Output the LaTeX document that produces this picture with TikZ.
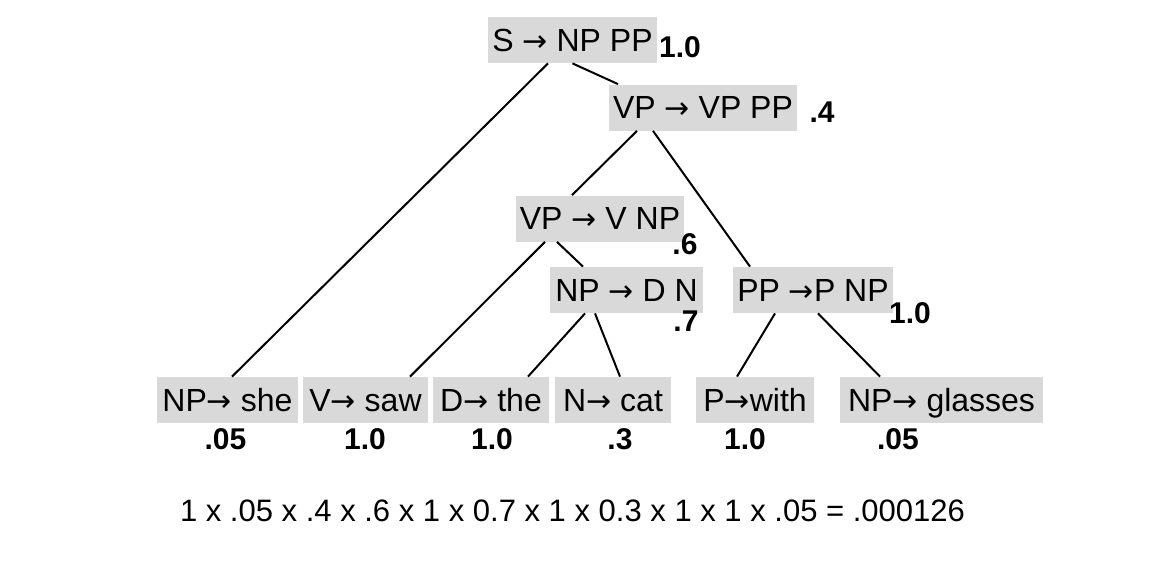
\documentclass[tikz,border=0pt]{standalone}
\usepackage{fontspec}
\setmainfont{Liberation Sans}
\newfontfamily\arrowfont{DejaVu Sans}
\usepackage{tikz}
\usetikzlibrary{positioning,calc}

\newcommand{\ra}{{\arrowfont\fontsize{15}{16}\selectfont →}}

\tikzset{
    rulebox/.style={fill=gray!30, font=\fontsize{16}{18}\selectfont, minimum height=23pt, text height=11.45pt, text depth=0pt, inner xsep=2pt, inner ysep=0pt},
    prob/.style={font=\fontsize{15}{18}\selectfont\bfseries, inner sep=0pt},
    branch/.style={line width=1pt}
}

\begin{document}
\begin{tikzpicture}[x=0.5pt, y=-0.5pt]
    \useasboundingbox (0,0) rectangle (1156,562);

    % Rules
    \node[rulebox, minimum width=84.5pt] (S) at (572.5,40) {S \ra{} NP PP};
    \node[rulebox, minimum width=92pt] (VPa) at (703,107.5) {VP \ra{} VP PP};
    \node[rulebox, minimum width=83pt] (VPb) at (600,218.5) {VP \ra{} V NP};
    \node[rulebox, minimum width=76.5pt] (NPdn) at (626.5,290) {NP \ra{} D N};
    \node[rulebox, minimum width=80pt] (PPpnp) at (813,290) {PP \ra P NP};

    % Leaves
    \node[rulebox, minimum width=70.5pt] (she) at (227.5,400) {NP\ra{} she};
    \node[rulebox, minimum width=62.5pt] (saw) at (365.5,400) {V\ra{} saw};
    \node[rulebox, minimum width=58pt] (the) at (491,400) {D\ra{} the};
    \node[rulebox, minimum width=58pt] (cat) at (613,400) {N\ra{} cat};
    \node[rulebox, minimum width=59pt] (with) at (755,400) {P\ra with};
    \node[rulebox, minimum width=101.5pt] (glasses) at (941.5,400) {NP\ra{} glasses};

    % Probabilities
    \node[prob] (pS) at (680,47) {1.0};
    \node[prob] (pVPa) at (822,112) {.4};
    \node[prob] (pVPb) at (685,244) {.6};
    \node[prob] (pNPdn) at (686,321) {.7};
    \node[prob] (pPPpnp) at (910,313) {1.0};
    \node[prob] (pshe) at (225.5,439.5) {.05};
    \node[prob] (psaw) at (365,439.5) {1.0};
    \node[prob] (pthe) at (492,439.5) {1.0};
    \node[prob] (pcat) at (620,439.5) {.3};
    \node[prob] (pwith) at (745,439.5) {1.0};
    \node[prob] (pglasses) at (898,439.5) {.05};

    % Branches
    \draw[branch] ([xshift=-12.25pt]S.south) -- ([xshift=2.25pt]she.north);
    \draw[branch] (S.south) -- ([xshift=-42.5pt]VPa.north);
    \draw[branch] ([xshift=-33pt]VPa.south) -- ([xshift=-14pt]VPb.north);
    \draw[branch] ([xshift=-25pt]VPa.south) -- ([xshift=-31.5pt]PPpnp.north);
    \draw[branch] ([xshift=-27.5pt]VPb.south) -- ([xshift=22.25pt]saw.north);
    \draw[branch] ([xshift=-21.5pt]VPb.south) -- ([xshift=-21.75pt]NPdn.north);
    \draw[branch] ([xshift=-20.75pt]NPdn.south) -- ([xshift=18.5pt]the.north);
    \draw[branch] ([xshift=-15.75pt]NPdn.south) -- ([xshift=3.5pt]cat.north);
    \draw[branch] ([xshift=-19pt]PPpnp.south) -- ([xshift=-9pt]with.north);
    \draw[branch] ([xshift=2.5pt]PPpnp.south) -- ([xshift=-30.75pt]glasses.north);

    % Product
    \node[font=\fontsize{15.5}{18}\selectfont, inner sep=0pt] (product) at (572.5,511) {1 x .05 x .4 x .6 x 1 x 0.7 x 1 x 0.3 x 1 x 1 x .05 = .000126};
\end{tikzpicture}
\end{document}
